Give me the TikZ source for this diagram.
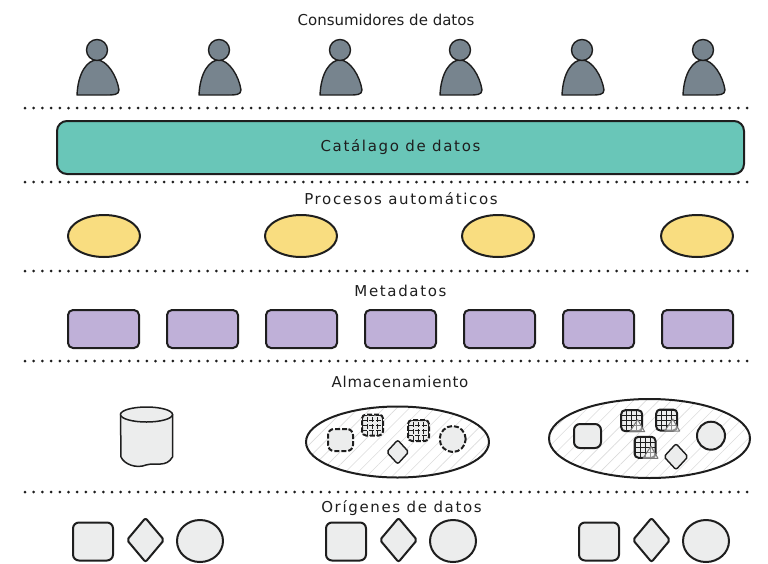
\documentclass[tikz,border=0pt]{standalone}
\usepackage{fontspec}
\setmainfont{DejaVu Sans}
\newfontfamily\loosefont[LetterSpace=11]{DejaVu Sans}
\newfontfamily\halffont[LetterSpace=5]{DejaVu Sans}
\usetikzlibrary{shapes.geometric,patterns.meta}
\definecolor{inkline}{HTML}{1E1E1E}
\definecolor{personfill}{HTML}{77848E}
\definecolor{catalogfill}{HTML}{69C6B8}
\definecolor{processfill}{HTML}{F9DD80}
\definecolor{metafill}{HTML}{BFB0D8}
\definecolor{sourcefill}{HTML}{ECEDED}
\begin{document}
\begin{tikzpicture}
[
    x=1pt, y=-1pt,
    line join=round,
    title/.style={font=\fontsize{15}{17}\selectfont, text=inkline, inner sep=0pt},
    loosetitle/.style={title, font=\fontsize{15}{17}\selectfont\loosefont},
    separator/.style={draw=inkline, line width=3pt, line cap=round, dash pattern=on 0pt off 8.7pt},
    outline/.style={draw=inkline, line width=2pt, inner sep=0pt, outer sep=0pt},
    person/.style={outline, fill=personfill, line width=1.4pt},
    head/.style={person, circle, minimum size=21pt},
    catalog/.style={outline, fill=catalogfill, rounded corners=10pt, minimum width=687pt, minimum height=53pt},
    process/.style={outline, fill=processfill, ellipse, minimum width=72pt, minimum height=42pt},
    metadata/.style={outline, fill=metafill, rounded corners=5pt, minimum width=71pt, minimum height=38pt},
    store/.style={outline, ellipse, pattern={Lines[angle=45,distance=9pt,line width=0.6pt]}, pattern color=black!14},
    squarebox/.style={outline, fill=sourcefill, rounded corners=6pt},
    roundbox/.style={outline, fill=sourcefill, circle},
    diamondbox/.style={outline, fill=sourcefill, diamond, rounded corners=2pt},
    broken/.style={dash pattern=on 5pt off 2pt},
    gridbox/.style={outline, broken, fill=sourcefill, rounded corners=4pt, minimum size=21pt,
        path picture={\draw[inkline, line width=0.6pt, step=5pt] (path picture bounding box.south west) grid (path picture bounding box.north east);}},
    tablebox/.style={gridbox, solid},
    tablemark/.style={draw=inkline!60, line width=1pt, fill=white, fill opacity=0.5},
    tank/.style={outline, line width=1.5pt, fill=sourcefill},
]
% titles
\node[title] (consumers) at (386,20) {Consumidores de datos};
\node[loosetitle] (processes) at (401,199) {Procesos automáticos};
\node[loosetitle] (metadatos) at (400.5,291) {Metadatos};
\node[title, font=\fontsize{15}{17}\selectfont\halffont] (storage) at (400,382) {Almacenamiento};
\node[loosetitle] (origins) at (401.5,508) {Orígenes de datos};

% separators
\foreach \n/\y in {a/108, b/182, c/271, d/361, e/492} {
    \coordinate (sep\n l) at (25,\y);
    \coordinate (sep\n r) at (752,\y);
    \draw[separator] (sep\n l) -- (sep\n r);
}

% consumers
\foreach \n/\x in {1/97, 2/219, 3/340, 4/460, 5/582, 6/703} {
    \draw[person, shift={(\x,0)}] (-20,95) .. controls (-19,73) and (-10,60) .. (0,60)
        .. controls (10,60) and (20,76) .. (22,90) .. controls (22,95) and (16,95) .. (10,95) -- cycle;
    \node[head] (head\n) at (\x,50) {};
}

% catalog
\node[catalog] (catalog) at (400.5,147.5) {};
\node[loosetitle] (catalogname) at (catalog) {Catálago de datos};

% processes
\foreach \n/\x in {1/104, 2/301, 3/498, 4/697}
    \node[process] (process\n) at (\x,236) {};

% metadata
\foreach \n/\x in {1/103.5, 2/202.5, 3/301.5, 4/400.5, 5/499.5, 6/598.5, 7/697.5}
    \node[metadata] (meta\n) at (\x,329) {};

% storage
\draw[tank] (120.5,414) -- (121,457) .. controls (124,464) and (136,469) .. (146,465)
    .. controls (156,462) and (166,468) .. (172.5,457) -- (172.5,414) -- cycle;
\node[tank, ellipse, minimum width=52pt, minimum height=15pt] (warehouse) at (146.5,414.5) {};

\node[store, minimum width=183pt, minimum height=71pt] (lake) at (397.5,442) {};
\node[squarebox, broken, minimum width=25pt, minimum height=22pt] (lakesquare) at (340.5,440) {};
\node[gridbox] (lakegrida) at (372.5,425) {};
\node[gridbox] (lakegridb) at (418.5,430.5) {};
\node[diamondbox, line width=1.4pt, minimum width=22pt, minimum height=24pt] (lakediamond) at (397.7,452) {};
\node[roundbox, broken, minimum size=26pt] (lakecircle) at (452.7,439) {};

\node[store, minimum width=201pt, minimum height=79pt] (house) at (649.5,438.5) {};
\node[squarebox, minimum width=27pt, minimum height=24pt] (housesquare) at (587.5,436) {};
\foreach \n/\x/\y in {a/631.7/420.7, b/666.7/420, c/645/447.3} {
    \node[tablebox] (housegrid\n) at (\x,\y) {};
    \draw[tablemark, shift={(housegrid\n.center)}] (6,-1) -- (-2,11) -- (13,11) -- cycle;
}
\node[diamondbox, line width=1.4pt, minimum width=24pt, minimum height=26pt] (housediamond) at (676,456.7) {};
\node[roundbox, minimum size=28pt] (housecircle) at (711,435.7) {};

% origins
\foreach \n/\x in {a/0, b/253, c/506} {
    \node[squarebox, minimum width=40pt, minimum height=38pt] (square\n) at (93+\x,541.5) {};
    \node[diamondbox, minimum width=37pt, minimum height=44pt] (diamond\n) at (145.5+\x,540) {};
    \node[outline, fill=sourcefill, ellipse, minimum width=46pt, minimum height=42pt] (circle\n) at (200+\x,541) {};
}

\useasboundingbox (0,0) rectangle (768,562);
\end{tikzpicture}
\end{document}
